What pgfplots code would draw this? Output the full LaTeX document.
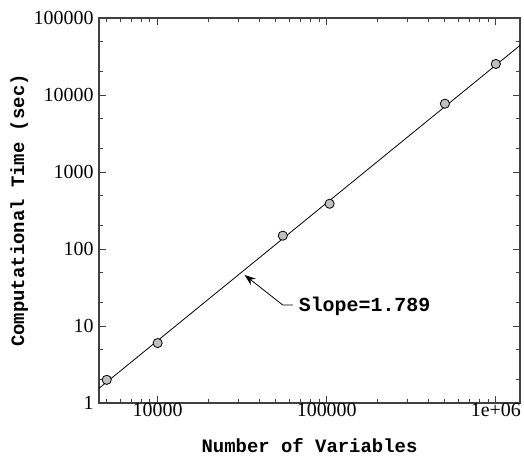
\documentclass[border=0pt]{standalone}
\usepackage{fontspec}
\setmainfont{Liberation Serif}
\setmonofont{Liberation Mono}
\usepackage{pgfplots}
\pgfplotsset{compat=1.18}
\usetikzlibrary{arrows.meta}
\begin{document}
\begin{tikzpicture}
\begin{axis}[name=ax, scale only axis, width=421bp, height=385bp,
  xmode=log, ymode=log, xmin=4500, xmax=1.39e6, ymin=1, ymax=100000,
  xtick={10000,100000,1000000}, xticklabels={10000,100000,1e+06},
  ytick={1,10,100,1000,10000,100000}, yticklabels={1,10,100,1000,10000,100000},
  minor xtick={5000,6000,7000,8000,9000,20000,30000,40000,50000,60000,70000,80000,90000,200000,300000,400000,500000,600000,700000,800000,900000},
  minor ytick={2,5,20,50,200,500,2000,5000,20000,50000},
  tick align=inside, major tick length=7bp, minor tick length=4bp,
  axis line style={line width=1.2bp, draw=black!75},
  tick style={line width=0.9bp, draw=black!75},
  ticklabel style={font=\fontsize{20}{22}\selectfont},
  xticklabel style={yshift=3bp},
  yticklabel style={xshift=-2bp},
  xlabel={Number of Variables}, ylabel={Computational Time (sec)},
  label style={font=\ttfamily\bfseries\fontsize{19}{21}\selectfont},
  xlabel style={at={(axis description cs:0.5,-0.128)}, anchor=base},
  ylabel style={at={(axis description cs:-0.178,0.5)}, anchor=base},
]
\addplot[black, line width=0.8bp, no marks] coordinates {(4500,1.55) (1390000,44000)};
\addplot[only marks, mark=*, mark size=4.6bp, mark options={fill=black!25, draw=black, line width=0.8bp}]
  coordinates {(5000,2.0) (10000,6.0) (55000,149) (104000,387) (500000,7710) (1000000,25300)};
\draw[line width=0.8bp, -{Stealth[length=11bp,width=8bp]}] (axis cs:63000,18.7) -- (axis cs:55000,18.7) -- (axis cs:32700,45.9);
\node[anchor=west, inner sep=0pt, font=\ttfamily\bfseries\fontsize{20}{22}\selectfont] at (axis cs:68200,17.8) {Slope=1.789};
\end{axis}
\pgfresetboundingbox
\path[use as bounding box] ([xshift=-99bp,yshift=-54bp]ax.south west) rectangle ([xshift=4bp,yshift=18bp]ax.north east);
\end{tikzpicture}
\end{document}
